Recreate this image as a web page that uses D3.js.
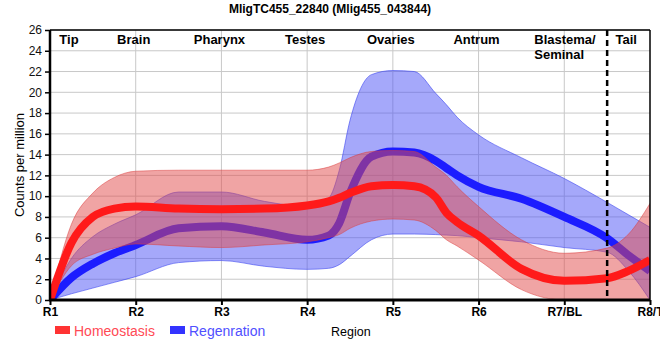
<!DOCTYPE html>
<html><head><meta charset="utf-8">
<script src="https://cdn.jsdelivr.net/npm/d3@7"></script>
<style>
body{margin:0;background:#fff}
svg{display:block;font-family:"Liberation Sans",Arial,sans-serif}
</style>
</head><body>
<svg id="chart" width="660" height="360"></svg>
<script>
// ---- data ----
const title = "MligTC455_22840 (Mlig455_043844)";
const positions = [1,1.25,1.5,1.75,2,2.5,3,3.5,4,4.25,4.375,4.5,4.75,5,5.25,5.5,5.625,5.75,6,6.5,7,7.5,7.75,8];
const regionTicks = ["R1","R2","R3","R4","R5","R6","R7/BL","R8/T"];
const tissues = ["Tip","Brain","Pharynx","Testes","Ovaries","Antrum","Blastema/|Seminal","Tail"];
const yTicks = [0,2,4,6,8,10,12,14,16,18,20,22,24,26];

const homeoMean  = [0,5.5,8.0,8.8,9.0,8.8,8.75,8.8,9.1,9.5,9.85,10.3,10.95,11.07,10.95,9.9,8.4,7.5,6.2,3.0,1.85,2.1,2.8,3.85];
const homeoUpper = [0,7.3,10.3,11.8,12.4,12.5,12.5,12.5,12.5,12.8,13.2,13.7,14.3,14.4,14.3,12.8,12.0,10.9,9.0,5.8,4.5,5.0,6.35,9.3];
const homeoLower = [0,3.3,4.4,5.0,5.4,5.2,5.05,5.3,5.6,6.0,6.3,6.9,7.6,7.8,7.7,6.7,5.8,5.2,3.85,1.0,0,0,0,0];

const regenMean  = [0,2.15,3.5,4.5,5.3,6.9,7.1,6.5,5.8,6.2,7.4,10.3,13.8,14.3,14.2,13.4,12.7,12.0,10.9,9.75,8.0,5.95,4.3,2.8];
const regenUpper = [0,4.0,6.1,7.3,8.2,10.4,10.4,9.5,9.0,9.8,12.5,17.3,21.7,22.1,22.0,19.9,18.8,17.6,15.9,13.7,11.7,9.4,8.2,7.0];
const regenLower = [0,0.6,1.15,1.7,2.25,3.6,3.8,3.25,2.95,3.05,3.4,4.2,5.8,6.35,6.35,6.3,6.25,6.2,6.0,5.6,5.05,4.6,2.8,0];

const seriesNames = ["Homeostasis","Regenration"];

// ---- chart ----
const W = 660, H = 360;
const m = {left:50, right:10, top:30, bottom:60};
const svg = d3.select("#chart");
const x = d3.scaleLinear().domain([1,8]).range([m.left, W - m.right]);
const y = d3.scaleLinear().domain([0,26]).range([H - m.bottom, m.top]);

const rows = (mean, lo, hi) => positions.map((p,i)=>({p, v:mean[i], lo:lo[i], hi:hi[i]}));
const homeo = rows(homeoMean, homeoLower, homeoUpper);
const regen = rows(regenMean, regenLower, regenUpper);

svg.append("defs").append("clipPath").attr("id","clip")
  .append("rect").attr("x",m.left).attr("y",m.top)
  .attr("width",x(8)-m.left).attr("height",y(0)-m.top);

// grid
const grid = svg.append("g");
grid.selectAll("line.h").data(yTicks.slice(1)).join("line")
  .attr("x1",x(1)).attr("x2",x(8)).attr("y1",d=>y(d)).attr("y2",d=>y(d))
  .attr("stroke","#c8c8c8").attr("stroke-width",1);
grid.selectAll("line.v").data(d3.range(2,8)).join("line")
  .attr("x1",d=>x(d)).attr("x2",d=>x(d)).attr("y1",y(0)).attr("y2",y(26))
  .attr("stroke","#c8c8c8").attr("stroke-width",1);

const area = d3.area().x(d=>x(d.p)).y0(d=>y(d.lo)).y1(d=>y(d.hi)).curve(d3.curveMonotoneX);
const line = d3.line().x(d=>x(d.p)).y(d=>y(d.v)).curve(d3.curveMonotoneX);

const plot = svg.append("g").attr("clip-path","url(#clip)");
// blue band + line
plot.append("path").datum(regen).attr("d",area)
  .attr("fill","rgb(75,82,245)").attr("fill-opacity",0.5)
  .attr("stroke","rgb(60,70,240)").attr("stroke-opacity",0.6).attr("stroke-width",1);
plot.append("path").datum(regen).attr("d",line)
  .attr("fill","none").attr("stroke","#1c1cff").attr("stroke-width",8);
// red band + line
plot.append("path").datum(homeo).attr("d",area)
  .attr("fill","rgb(226,74,74)").attr("fill-opacity",0.5)
  .attr("stroke","rgb(220,60,60)").attr("stroke-opacity",0.5).attr("stroke-width",1);
plot.append("path").datum(homeo).attr("d",line)
  .attr("fill","none").attr("stroke","#ff1a1a").attr("stroke-width",8);

// dashed separator (between R7 and R8)
svg.append("line").attr("x1",x(7.5)).attr("x2",x(7.5)).attr("y1",y(26)).attr("y2",y(0))
  .attr("stroke","#000").attr("stroke-width",2.5).attr("stroke-dasharray","6,4");

// frame
svg.append("line").attr("x1",x(1)).attr("x2",x(8)).attr("y1",y(26)).attr("y2",y(26))
  .attr("stroke","#000").attr("stroke-width",1.5);
svg.append("line").attr("x1",x(8)).attr("x2",x(8)).attr("y1",y(26)).attr("y2",y(0))
  .attr("stroke","#000").attr("stroke-width",1.5);

// axes
const yAxis = svg.append("g").attr("transform",`translate(${x(1)},0)`)
  .call(d3.axisLeft(y).tickValues(yTicks).tickSize(5).tickPadding(3));
yAxis.select(".domain").attr("stroke-width",2.5).attr("d",`M0,${y(26)}V${y(0)}`);
yAxis.selectAll("text").attr("font-size",12).attr("fill","#111").attr("font-family","Liberation Sans, Arial, sans-serif");
yAxis.selectAll(".tick line").attr("stroke-width",1.5);

const xAxis = svg.append("g").attr("transform",`translate(0,${y(0)})`)
  .call(d3.axisBottom(x).tickValues(d3.range(1,9)).tickFormat(d=>regionTicks[d-1]).tickSize(5).tickPadding(2));
xAxis.select(".domain").attr("stroke-width",3).attr("d",`M${x(1)-1},0H${x(8)}`);
xAxis.selectAll("text").attr("font-size",12).attr("font-weight","bold").attr("fill","#000").attr("font-family","Liberation Sans, Arial, sans-serif");
xAxis.selectAll(".tick line").attr("stroke-width",2);

// tissue labels
const lab = svg.append("g").attr("font-size",13).attr("font-weight","bold").attr("fill","#000");
tissues.forEach((t,i)=>{
  const parts = t.split("|");
  let px, anchor = "middle";
  if(i===0) px = x(1)+19;
  else if(i===6){ px = x(7)-30; anchor="start"; }
  else if(i===7) px = x(7.5)+19;
  else px = x(i+1)-2;
  parts.forEach((s,k)=>{
    lab.append("text").attr("x",px).attr("y",44+k*15).attr("text-anchor",anchor).text(s);
  });
});

// title
svg.append("text").attr("x",330).attr("y",13).attr("text-anchor","middle")
  .attr("font-size",12).attr("font-weight","bold").text(title);

// y label
svg.append("text").attr("transform",`translate(24,165) rotate(-90)`).attr("text-anchor","middle")
  .attr("font-size",13).text("Counts per million");

// x label
svg.append("text").attr("x",331).attr("y",336).attr("font-size",12.5).text("Region");

// legend
const legColors = [["#ff3333","#ff4a55"],["#3333ff","#5050ff"]];
const legX = [55,170];
seriesNames.forEach((n,i)=>{
  svg.append("rect").attr("x",legX[i]).attr("y",326).attr("width",15).attr("height",8).attr("fill",legColors[i][0]);
  svg.append("text").attr("x",legX[i]+19).attr("y",335.5).attr("font-size",14).attr("fill",legColors[i][1]).text(n);
});
</script>
</body></html>
